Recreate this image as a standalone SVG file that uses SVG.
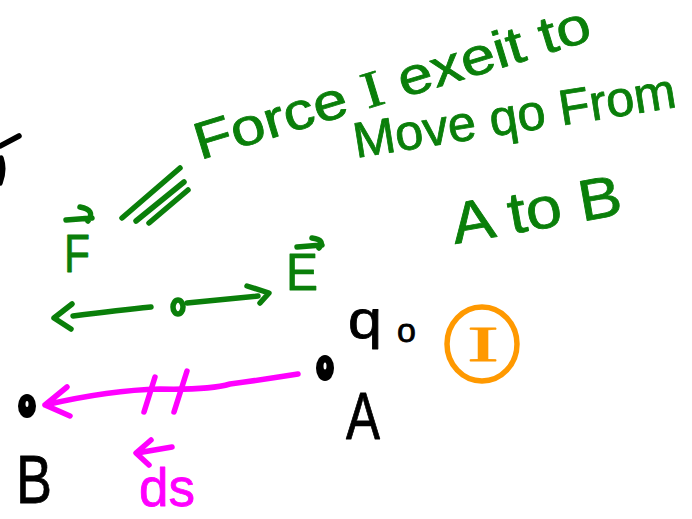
<svg xmlns="http://www.w3.org/2000/svg" width="692" height="519" viewBox="0 0 692 519">
<style>
.s{fill:none;stroke-linecap:round;stroke-linejoin:round;stroke-width:5.5}
.g{stroke:#0a7f0a}
.m{stroke:#ff00ff}
.k{stroke:#000}
.o{stroke:#ff9900}
.t{font-family:"Liberation Sans",Arial,sans-serif;stroke-linejoin:round;stroke-width:0.8}
.tg{fill:#0a7f0a;stroke:#0a7f0a}
.tk{fill:#000;stroke:#000}
.tm{fill:#ff00ff;stroke:#ff00ff}
.to{fill:#ff9900;stroke:#ff9900}
.serif{font-family:"Liberation Serif",serif}
</style>
<rect width="692" height="519" fill="#fff"/>
<g id="edge-mark">
<path class="s k" d="M19,136 L0,146 M1,158 Q5,170 0,183"/>
</g>
<g id="note">
<text class="t tg" font-size="52" transform="translate(200,160) rotate(-17)" textLength="412" lengthAdjust="spacingAndGlyphs">Force <tspan class="serif">I</tspan> exeit to</text>
<text class="t tg" font-size="50" transform="translate(356,158) rotate(-9)" textLength="326" lengthAdjust="spacingAndGlyphs">Move qo From</text>
<text class="t tg" font-size="58" transform="translate(455,244) rotate(-10)" textLength="172" lengthAdjust="spacingAndGlyphs">A to B</text>
</g>
<g id="force-eq">
<text class="t tg" font-size="54" x="64" y="272" textLength="26" lengthAdjust="spacingAndGlyphs">F</text>
<path class="s g" d="M66,220 L92,218 M80,207 Q96,210 88,221"/>
<path class="s g" d="M122,218 L180,168 M136,221 L184,182 M149,223 L188,190"/>
<text class="t tg" font-size="52" x="286" y="290" textLength="32" lengthAdjust="spacingAndGlyphs">E</text>
<path class="s g" d="M297,247 L322,245 M312,238 Q326,240 319,248"/>
</g>
<g id="charge">
<ellipse cx="178" cy="307" rx="5" ry="7" class="s g" stroke-width="4.5"/>
</g>
<g id="nodeA">
<ellipse cx="325" cy="368" rx="9" ry="13" fill="#000"/>
<ellipse cx="325" cy="366" rx="1.5" ry="3.5" fill="#fff"/>
<text class="t tk" font-size="54" x="348" y="338" textLength="34" lengthAdjust="spacingAndGlyphs">q</text>
<text class="t tk" font-size="34" x="397" y="342">o</text>
<text class="t tk" font-size="66" x="346" y="439" textLength="34" lengthAdjust="spacingAndGlyphs">A</text>
</g>
<g id="nodeB">
<ellipse cx="27" cy="406" rx="9" ry="12" fill="#000"/>
<ellipse cx="27" cy="404" rx="1.5" ry="3" fill="#fff"/>
<text class="t tk" font-size="68" x="16" y="503" textLength="36" lengthAdjust="spacingAndGlyphs">B</text>
</g>
<g id="nodeI">
<ellipse cx="482" cy="344" rx="35" ry="37" class="s o"/>
<text class="t to serif" font-size="50" x="467" y="361" textLength="32" lengthAdjust="spacingAndGlyphs">I</text>
</g>
<g id="connectors">
<path class="s g" d="M72,304 L54,318 L71,329 M73,316 Q120,310 151,307 M187,303 L258,296 M247,286 L269,293 L260,303"/>
<path class="s m" d="M298,374 Q260,380 230,384 Q210,390 160,389 Q110,390 45,405 M67,387 L45,405 L70,416"/>
<path class="s m" d="M155,377 L144,412 M187,371 L174,412"/>
<path class="s m" d="M151,440 L136,453 L149,465 M137,453 L172,447"/>
</g>
<g id="ds-label">
<text class="t tm" font-size="54" x="139" y="506" textLength="56" lengthAdjust="spacingAndGlyphs">ds</text>
</g>
</svg>
